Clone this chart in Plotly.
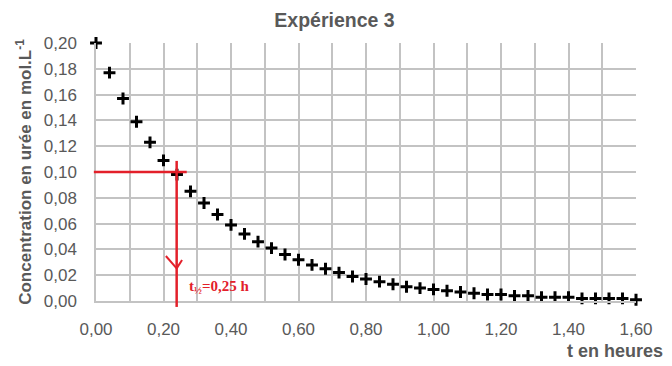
import plotly.graph_objects as go

# Data
t_hours = [0.00, 0.04, 0.08, 0.12, 0.16, 0.20, 0.24, 0.28, 0.32, 0.36,
           0.40, 0.44, 0.48, 0.52, 0.56, 0.60, 0.64, 0.68, 0.72, 0.76,
           0.80, 0.84, 0.88, 0.92, 0.96, 1.00, 1.04, 1.08, 1.12, 1.16,
           1.20, 1.24, 1.28, 1.32, 1.36, 1.40, 1.44, 1.48, 1.52, 1.56, 1.60]
concentration = [0.200, 0.177, 0.157, 0.139, 0.123, 0.109, 0.098, 0.085, 0.076, 0.067,
                 0.059, 0.052, 0.046, 0.041, 0.036, 0.032, 0.028, 0.025, 0.022, 0.019,
                 0.017, 0.015, 0.013, 0.011, 0.010, 0.009, 0.008, 0.007, 0.006, 0.005,
                 0.005, 0.004, 0.004, 0.003, 0.003, 0.003, 0.002, 0.002, 0.002, 0.002, 0.001]

title_text = "Expérience 3"
y_title = "Concentration en urée en mol.L<sup>-1</sup>"
x_title = "t en heures"
half_life_label = "t<sub>½</sub>=0,25 h"
half_life_t = 0.239
half_conc = 0.10

GRAY = "#595959"
GRID = "#c3c3c3"
RED = "#e3202a"

fig = go.Figure()
fig.add_trace(go.Scatter(
    x=t_hours, y=concentration, mode="markers",
    marker=dict(symbol="cross-thin", size=8.5, color="black",
                line=dict(color="black", width=3)),
    showlegend=False, cliponaxis=False,
))

shapes = [
    # horizontal red line at C0/2
    dict(type="line", xref="paper", yref="y", x0=-0.004, x1=0.168,
         y0=half_conc, y1=half_conc, line=dict(color=RED, width=2.5)),
    # vertical red line at t1/2
    dict(type="line", xref="x", yref="paper", x0=half_life_t, x1=half_life_t,
         y0=-0.023, y1=0.543, line=dict(color=RED, width=2.5)),
    # arrow head
    dict(type="line", xref="x", yref="y", x0=0.207, y0=0.0349,
         x1=half_life_t, y1=0.0253, line=dict(color=RED, width=2)),
    dict(type="line", xref="x", yref="y", x0=0.255, y0=0.0318,
         x1=half_life_t, y1=0.0253, line=dict(color=RED, width=2)),
]

# page body adds an 8px offset, so the figure is 8px smaller than the window
fig.update_layout(
    width=664, height=358,
    margin=dict(l=88, r=36, t=35, b=65),
    paper_bgcolor="white", plot_bgcolor="white",
    separators=", ",
    font=dict(family="Liberation Sans, Arial, sans-serif", color=GRAY, size=17),
    title=dict(text=f"<b>{title_text}</b>", x=0.4917, xref="container", xanchor="center",
               y=0.967, yref="container", yanchor="middle",
               font=dict(size=19.5, color=GRAY)),
    shapes=shapes,
    annotations=[
        dict(text=f"<b>{x_title}</b>", xref="paper", yref="paper",
             x=1.054, y=-0.194, xanchor="right", yanchor="middle",
             showarrow=False, font=dict(size=18, color=GRAY)),
        dict(text=f"<b>{half_life_label}</b>", xref="x", yref="y",
             x=0.27, y=0.011, xanchor="left", yanchor="middle", showarrow=False,
             font=dict(family="Liberation Serif, Times New Roman, serif", size=15, color=RED)),
    ],
)

fig.update_xaxes(
    range=[0, 1.6], dtick=0.2, tick0=0, tickformat=".2f",
    showgrid=True, gridcolor=GRID, gridwidth=1.5,
    minor=dict(dtick=0.1, showgrid=True, gridcolor=GRID, gridwidth=1.5),
    showline=True, linecolor=GRID, linewidth=1.5,
    zeroline=False, ticks="", ticklabelstandoff=12,
    tickfont=dict(size=17, color=GRAY), fixedrange=True,
)
fig.update_yaxes(
    range=[0, 0.2], dtick=0.02, tick0=0, tickformat=".2f",
    showgrid=True, gridcolor=GRID, gridwidth=1.5,
    showline=True, linecolor=GRID, linewidth=1.5,
    zeroline=False, ticks="", ticklabelstandoff=14,
    tickfont=dict(size=17, color=GRAY),
    title=dict(text=f"<b>{y_title}</b>", standoff=8, font=dict(size=17, color=GRAY)),
    fixedrange=True,
)

fig.write_html("out.html")
